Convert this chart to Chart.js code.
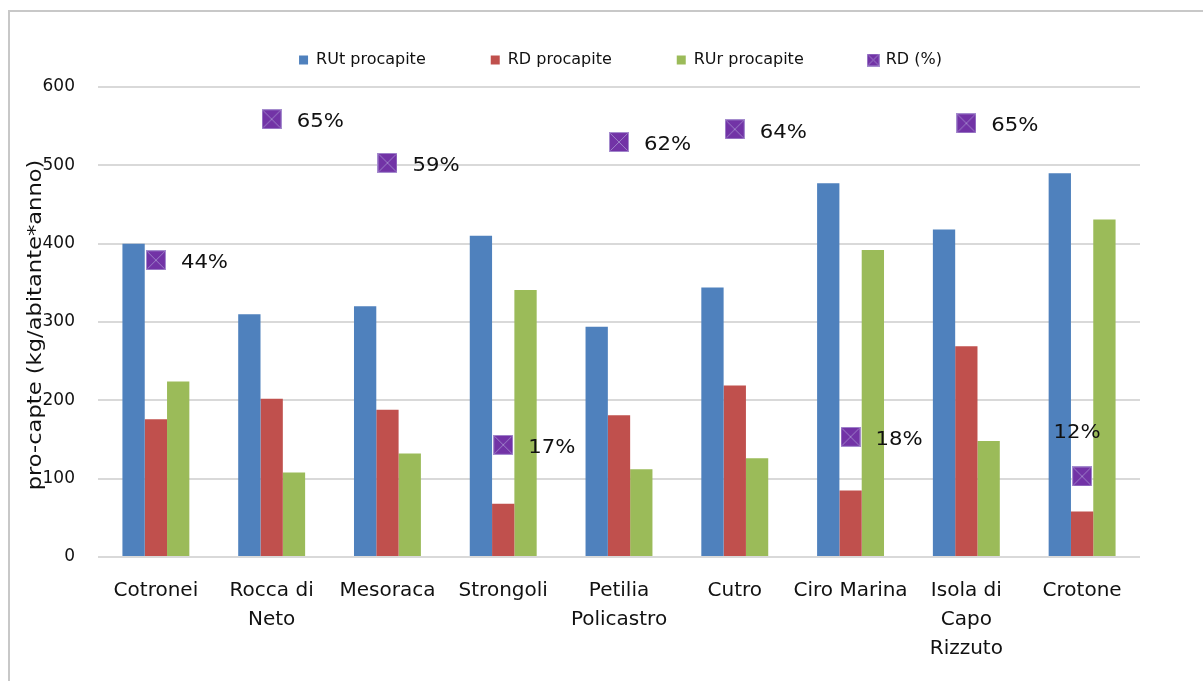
<!DOCTYPE html>
<html><head><meta charset="utf-8">
<script src="https://cdn.jsdelivr.net/npm/chart.js@4.4.1/dist/chart.umd.min.js"></script>
<style>
html,body{margin:0;padding:0;background:#fff;overflow:hidden}
#frame{position:absolute;left:8px;top:10px;width:1400px;height:900px;border:2px solid #c8c8c8;box-sizing:border-box}
#wrap{position:absolute;left:0;top:0;width:1203px;height:681px}
canvas{display:block}
</style></head><body>
<div id="frame"></div>
<div id="wrap"><canvas id="c" width="1203" height="681"></canvas></div>
<script>
// ---- data ----
const categories = [["Cotronei"],["Rocca di","Neto"],["Mesoraca"],["Strongoli"],["Petilia","Policastro"],["Cutro"],["Ciro Marina"],["Isola di","Capo","Rizzuto"],["Crotone"]];
const rutProcapite = [400,310,320,410,294,344,477,418,490];
const rdProcapite  = [176,202,188,68,181,219,85,269,58];
const rurProcapite = [224,108,132,341,112,126,392,148,431];
const rdPercent    = [44.2,65.2,58.7,16.7,61.8,63.7,17.9,64.6,12.0];
const yTicks = [0,100,200,300,400,500,600];
const seriesNames = ["RUt procapite","RD procapite","RUr procapite","RD (%)"];
const yTitle = "pro-capte (kg/abitante*anno)";

const FONT = '"DejaVu Sans", sans-serif';

function makeMarker(s){
  const c=document.createElement('canvas'); c.width=s; c.height=s;
  const g=c.getContext('2d');
  g.fillStyle='#7233a6'; g.fillRect(0,0,s,s);
  g.strokeStyle='#a58cce'; g.lineWidth=1; g.strokeRect(0.5,0.5,s-1,s-1);
  g.beginPath(); g.moveTo(1.5,1.5); g.lineTo(s-1.5,s-1.5); g.moveTo(s-1.5,1.5); g.lineTo(1.5,s-1.5);
  g.strokeStyle='#9d80c9'; g.lineWidth=1; g.stroke();
  return c;
}
const bigMarker = makeMarker(20);
const smallMarker = makeMarker(13);

const rdLabels = {
  id:'rdLabels',
  afterDatasetsDraw(chart){
    const meta = chart.getDatasetMeta(3); const ctx = chart.ctx;
    ctx.save();
    ctx.font = '20px ' + FONT; ctx.fillStyle = '#111'; ctx.textBaseline = 'middle';
    meta.data.forEach((pt,i)=>{
      const txt = Math.round(rdPercent[i]) + '%';
      let x, y, align;
      if (i === 8) { x = pt.x - 5; y = pt.y - 44; align = 'center'; }
      else { x = pt.x + 25; y = pt.y + 3; align = 'left'; }
      ctx.save(); ctx.translate(x,y); ctx.scale(1.06,1); ctx.textAlign = align; ctx.fillText(txt,0,0); ctx.restore();
    });
    ctx.restore();
  }
};
const axisTitle = {
  id:'axisTitle',
  afterDraw(chart){
    const ctx = chart.ctx, a = chart.chartArea;
    ctx.save();
    ctx.translate(a.left - 62, (a.top + a.bottom)/2 + 3);
    ctx.rotate(-Math.PI/2);
    ctx.scale(1.13,1);
    ctx.font = '20px ' + FONT; ctx.fillStyle = '#111';
    ctx.textAlign = 'center'; ctx.textBaseline = 'middle';
    ctx.fillText(yTitle,0,0);
    ctx.restore();
  }
};

new Chart(document.getElementById('c'), {
  type: 'bar',
  data: {
    labels: categories,
    datasets: [
      {label: seriesNames[0], data: rutProcapite, backgroundColor: '#4F81BD', pointStyle: 'rect', xAxisID: 'x', yAxisID: 'y'},
      {label: seriesNames[1], data: rdProcapite, backgroundColor: '#C0504D', pointStyle: 'rect', xAxisID: 'x', yAxisID: 'y'},
      {label: seriesNames[2], data: rurProcapite, backgroundColor: '#9BBB59', pointStyle: 'rect', xAxisID: 'x', yAxisID: 'y'},
      {label: seriesNames[3], type: 'line', data: rdPercent, showLine: false, xAxisID: 'x', yAxisID: 'y1',
       pointStyle: bigMarker, pointRadius: 10, backgroundColor: '#7030A0', borderColor: '#7030A0'}
    ]
  },
  options: {
    responsive: false,
    animation: false,
    devicePixelRatio: 1,
    datasets: { bar: { categoryPercentage: 0.578, barPercentage: 1.0 } },
    layout: { padding: { left: 38, right: 0, top: -13, bottom: 0 } },
    plugins: {
      tooltip: { enabled: false },
      legend: {
        position: 'top',
        labels: {
          usePointStyle: true, boxWidth: 9, boxHeight: 9, padding: 65,
          color: '#111', font: { family: FONT, size: 16 },
          generateLabels(chart){
            const items = Chart.defaults.plugins.legend.labels.generateLabels(chart);
            items.sort((a,b)=>a.datasetIndex-b.datasetIndex);
            items.forEach(it=>{ if (it.datasetIndex === 3) it.pointStyle = smallMarker; else it.pointStyle = 'rect'; it.lineWidth = 0; });
            return items;
          }
        }
      }
    },
    scales: {
      x: {
        grid: { display: false },
        border: { display: false },
        ticks: { color: '#111', font: { family: FONT, size: 20, lineHeight: 1.45 }, padding: 11.5, maxRotation: 0, autoSkip: false },
        afterFit(s){ s.height = 124; }
      },
      xTop: {
        type: 'category', position: 'top',
        grid: { display: false }, border: { display: false },
        ticks: { display: false },
        afterFit(s){ s.height = 9; }
      },
      y: {
        position: 'left', min: 0, max: 600,
        grid: { color: '#d9d9d9', lineWidth: 2, drawTicks: false },
        border: { display: false },
        ticks: { color: '#111', font: { family: FONT, size: 17 }, padding: 23 },
        afterBuildTicks(s){ s.ticks = yTicks.map(v=>({value:v})); },
        afterFit(s){ s.width = 60; }
      },
      y1: {
        position: 'right', min: 0, max: 70,
        grid: { display: false }, border: { display: false },
        ticks: { display: false },
        afterFit(s){ s.width = 63; }
      }
    }
  },
  plugins: [rdLabels, axisTitle]
});
</script>
</body></html>
